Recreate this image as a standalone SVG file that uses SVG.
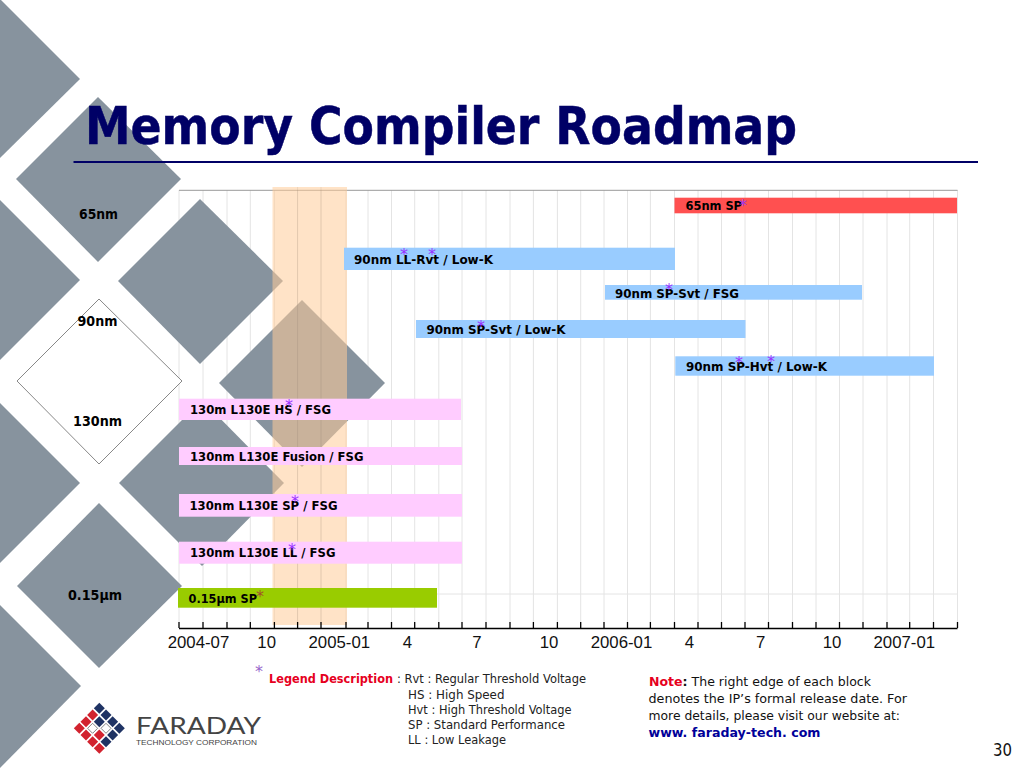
<svg xmlns="http://www.w3.org/2000/svg" width="1024" height="768" viewBox="0 0 1024 768">
<style>
.d{fill:#87939e}
.t{font-family:"DejaVu Sans",Verdana,sans-serif}
.b{font-family:"DejaVu Sans",Verdana,sans-serif;font-weight:700;font-size:12.5px;fill:#000}
.l{font-family:"DejaVu Sans",Verdana,sans-serif;font-weight:700;font-size:13.5px;fill:#000}
.s{font-family:"DejaVu Sans",Verdana,sans-serif;font-size:16px;fill:#9933ff;text-anchor:middle}
.a{font-family:"Liberation Sans",Arial,sans-serif;font-size:16.8px;fill:#111;text-anchor:middle}
.r{font-family:"DejaVu Sans",Verdana,sans-serif;font-size:12px;fill:#222}
.n{font-family:"DejaVu Sans",Verdana,sans-serif;font-size:13px;fill:#111}
.g{stroke:#e4e4e4;stroke-width:1;fill:none}
.k{stroke:#000;stroke-width:1.3;fill:none}
.navy{fill:#1f3364}
.red{fill:#d2232f}
.wht{fill:#fff;stroke:#666;stroke-width:.8}
.blue{fill:#99ccff}
.pink{fill:#ffccff}
</style>
<g id="chart-grid">
<path class="g" d="M179 190V622M203 190V622M227 190V622M250.300 190V622M274.400 190V622M297.600 190V622M321 190V622M346 190V622M368 190V622M391.500 190V622M414.700 190V622M438.800 190V622M462 190V622M486 190V622M510 190V622M533.400 190V622M557.400 190V622M580.700 190V622M604 190V622M627.500 190V622M650.400 190V622M674.500 190V622M698 190V622M721.500 190V622M745 190V622M768.500 190V622M792.500 190V622M816 190V622M839.500 190V622M863 190V622M887 190V622M909.700 190V622M933.500 190V622M957.500 190V622M179 594H957.500"/>
<path d="M179 190.300H957.500" stroke="#999" stroke-width="1" fill="none"/>
</g>
<g id="background">
<polygon class="d" points="0,-1 80,79 0,158"/>
<polygon class="d" points="98,97 181,179 98,262 16,179"/>
<polygon class="d" points="0,200 80,280 0,360"/>
<polygon class="d" points="200,199 283,281 200,364 118,281"/>
<polygon class="d" points="302,300 385,383 302,467 219,383"/>
<polygon points="99,299 182,381 99,464 17,381" fill="#fff" stroke="#888" stroke-width="1"/>
<polygon class="d" points="0,403 80,483 0,563"/>
<polygon class="d" points="202,400 284,483 202,566 119,483"/>
<polygon class="d" points="99,503 182,586 99,668 17,586"/>
<polygon class="d" points="0,605 81,686 0,768"/>
</g>
<g id="title">
<text class="t" x="85" y="144" font-size="51" font-weight="700" fill="#000066" stroke="#000066" stroke-width=".5" textLength="712" lengthAdjust="spacingAndGlyphs">Memory Compiler Roadmap</text>
<rect x="73.500" y="161" width="904.500" height="2" fill="#000066"/>
</g>
<g id="highlight-band">
<rect x="272.500" y="187" width="74.500" height="438" fill="#ffcc99" fill-opacity=".55"/>
<path d="M297.600 187V625M321 187V625" stroke="#000" stroke-opacity=".07" stroke-width="1" fill="none"/>
</g>
<g id="axis">
<path class="k" d="M179 628.500H957.500M179 622V628M203 622V628M227 622V628M250.300 622V628M274.400 622V628M297.600 622V628M321 622V628M346 622V628M368 622V628M391.500 622V628M414.700 622V628M438.800 622V628M462 622V628M486 622V628M510 622V628M533.400 622V628M557.400 622V628M580.700 622V628M604 622V628M627.500 622V628M650.400 622V628M674.500 622V628M698 622V628M721.500 622V628M745 622V628M768.500 622V628M792.500 622V628M816 622V628M839.500 622V628M863 622V628M887 622V628M909.700 622V628M933.500 622V628M957.500 622V628"/>
<text class="a" x="198.500" y="648">2004-07</text>
<text class="a" x="266.700" y="648">10</text>
<text class="a" x="339.300" y="648">2005-01</text>
<text class="a" x="407.300" y="648">4</text>
<text class="a" x="477" y="648">7</text>
<text class="a" x="549" y="648">10</text>
<text class="a" x="621.500" y="648">2006-01</text>
<text class="a" x="689.300" y="648">4</text>
<text class="a" x="760.700" y="648">7</text>
<text class="a" x="832" y="648">10</text>
<text class="a" x="904.300" y="648">2007-01</text>
</g>
<g id="node-labels">
<text class="l" x="79" y="219" textLength="39" lengthAdjust="spacingAndGlyphs">65nm</text>
<text class="l" x="77.500" y="326" textLength="40" lengthAdjust="spacingAndGlyphs">90nm</text>
<text class="l" x="73" y="426" textLength="49" lengthAdjust="spacingAndGlyphs">130nm</text>
<text class="l" x="68" y="600" textLength="54" lengthAdjust="spacingAndGlyphs">0.15µm</text>
</g>
<g id="bar-65sp"><rect x="674.500" y="197.700" width="282.500" height="15.600" fill="#ff5050"/><text class="b" x="685.500" y="210" textLength="56.500" lengthAdjust="spacingAndGlyphs">65nm SP</text></g>
<g id="bar-90ll"><rect class="blue" x="344" y="247.700" width="331" height="22.300"/><text class="b" x="354" y="264" textLength="139" lengthAdjust="spacingAndGlyphs">90nm LL-Rvt / Low-K</text></g>
<g id="bar-90svt-fsg"><rect class="blue" x="605" y="285" width="257" height="14.700"/><text class="b" x="615" y="297.500" textLength="124" lengthAdjust="spacingAndGlyphs">90nm SP-Svt / FSG</text></g>
<g id="bar-90svt-lowk"><rect class="blue" x="416" y="320" width="329.500" height="18"/><text class="b" x="426.500" y="334" textLength="139" lengthAdjust="spacingAndGlyphs">90nm SP-Svt / Low-K</text></g>
<g id="bar-90hvt"><rect class="blue" x="675.300" y="356.300" width="258.700" height="19.400"/><text class="b" x="686" y="371" textLength="141" lengthAdjust="spacingAndGlyphs">90nm SP-Hvt / Low-K</text></g>
<g id="bar-130hs"><rect class="pink" x="179" y="398.700" width="282" height="21.300"/><text class="b" x="190" y="414.300" textLength="141" lengthAdjust="spacingAndGlyphs">130m L130E HS / FSG</text></g>
<g id="bar-130fusion"><rect class="pink" x="179" y="447" width="283" height="18"/><text class="b" x="190" y="460.700" textLength="173.500" lengthAdjust="spacingAndGlyphs">130nm L130E Fusion / FSG</text></g>
<g id="bar-130sp"><rect class="pink" x="179" y="494" width="283" height="22.700"/><text class="b" x="189.500" y="510" textLength="148" lengthAdjust="spacingAndGlyphs">130nm L130E SP / FSG</text></g>
<g id="bar-130ll"><rect class="pink" x="179" y="541.700" width="283" height="22"/><text class="b" x="190" y="557.300" textLength="145.500" lengthAdjust="spacingAndGlyphs">130nm L130E LL / FSG</text></g>
<g id="bar-015sp"><rect x="178" y="588" width="259" height="19.700" fill="#99cc00"/><text class="b" x="188.500" y="602.700" textLength="68.500" lengthAdjust="spacingAndGlyphs">0.15µm SP</text></g>
<g id="asterisks">
<text class="s" x="743" y="211" fill-opacity=".9">*</text>
<text class="s" x="404" y="260">*</text>
<text class="s" x="432" y="260">*</text>
<text class="s" x="669" y="294.500">*</text>
<text class="s" x="481" y="331.500">*</text>
<text class="s" x="739" y="367.500">*</text>
<text class="s" x="771" y="366.500">*</text>
<text class="s" x="289" y="410.500">*</text>
<text class="s" x="295" y="506.500">*</text>
<text class="s" x="292" y="554.500">*</text>
<text class="s" x="260" y="602" style="fill:#a0522d">*</text>
<text class="s" x="259" y="677" style="fill:#9966cc">*</text>
</g>
<g id="legend">
<text class="t" x="269" y="683" font-size="12" font-weight="700" fill="#e6001e" textLength="124" lengthAdjust="spacingAndGlyphs">Legend Description</text>
<text class="r" x="397" y="683" textLength="189" lengthAdjust="spacingAndGlyphs">: Rvt : Regular Threshold Voltage</text>
<text class="r" x="408" y="698.500" textLength="96.500" lengthAdjust="spacingAndGlyphs">HS :  High Speed</text>
<text class="r" x="408" y="713.700" textLength="163.500" lengthAdjust="spacingAndGlyphs">Hvt : High Threshold Voltage</text>
<text class="r" x="408" y="728.700" textLength="157" lengthAdjust="spacingAndGlyphs">SP  : Standard Performance</text>
<text class="r" x="408" y="744" textLength="98" lengthAdjust="spacingAndGlyphs">LL : Low Leakage</text>
</g>
<g id="note">
<text class="n" x="649" y="686" textLength="222" lengthAdjust="spacingAndGlyphs"><tspan font-weight="700" fill="#e6001e">Note</tspan><tspan font-weight="700">:</tspan> The right edge of each block</text>
<text class="n" x="648.500" y="703" textLength="258.500" lengthAdjust="spacingAndGlyphs">denotes the IP’s formal release date.  For</text>
<text class="n" x="648.500" y="720" textLength="251.500" lengthAdjust="spacingAndGlyphs">more details, please visit our website at:</text>
<text class="t" x="648.500" y="737" font-size="13" font-weight="700" fill="#000099" textLength="172" lengthAdjust="spacingAndGlyphs">www. faraday-tech. com</text>
</g>
<g id="logo">
<g id="logo-mark">
<polygon class="navy" points="99.300,702.800 104.800,708.300 99.300,713.800 93.800,708.300"/>
<polygon class="red" points="92.600,709.500 98.100,715 92.600,720.500 87.100,715"/>
<polygon class="navy" points="106,709.500 111.500,715 106,720.500 100.500,715"/>
<polygon class="red" points="86,716.200 91.500,721.700 86,727.200 80.500,721.700"/>
<polygon class="navy" points="99.300,716.200 104.800,721.700 99.300,727.200 93.800,721.700"/>
<polygon class="navy" points="112.600,716.200 118.100,721.700 112.600,727.200 107.100,721.700"/>
<polygon class="red" points="79.300,722.800 84.800,728.300 79.300,733.800 73.800,728.300"/>
<polygon class="wht" points="92.600,723.300 97.600,728.300 92.600,733.300 87.600,728.300"/>
<polygon class="wht" points="106,723.300 111,728.300 106,733.300 101,728.300"/>
<polygon class="navy" points="119.300,722.800 124.800,728.300 119.300,733.800 113.800,728.300"/>
<polygon class="red" points="86,729.500 91.500,735 86,740.500 80.500,735"/>
<polygon class="red" points="99.300,729.500 104.800,735 99.300,740.500 93.800,735"/>
<polygon class="navy" points="112.600,729.500 118.100,735 112.600,740.500 107.100,735"/>
<polygon class="red" points="92.600,736.200 98.100,741.700 92.600,747.200 87.100,741.700"/>
<polygon class="navy" points="106,736.200 111.500,741.700 106,747.200 100.500,741.700"/>
<polygon class="red" points="99.300,742.800 104.800,748.300 99.300,753.800 93.800,748.300"/>
</g>
<text x="136" y="734" font-family="Lato,'Liberation Sans',sans-serif" font-weight="400" font-size="23" fill="#444" textLength="125" lengthAdjust="spacingAndGlyphs">FARADAY</text>
<text x="136" y="745" font-family="'Liberation Sans',Arial,sans-serif" font-size="7.500" fill="#444" textLength="121" lengthAdjust="spacingAndGlyphs">TECHNOLOGY CORPORATION</text>
</g>
<text id="page-number" class="t" x="993" y="755.700" font-size="17" fill="#111" textLength="19" lengthAdjust="spacingAndGlyphs">30</text>
</svg>
